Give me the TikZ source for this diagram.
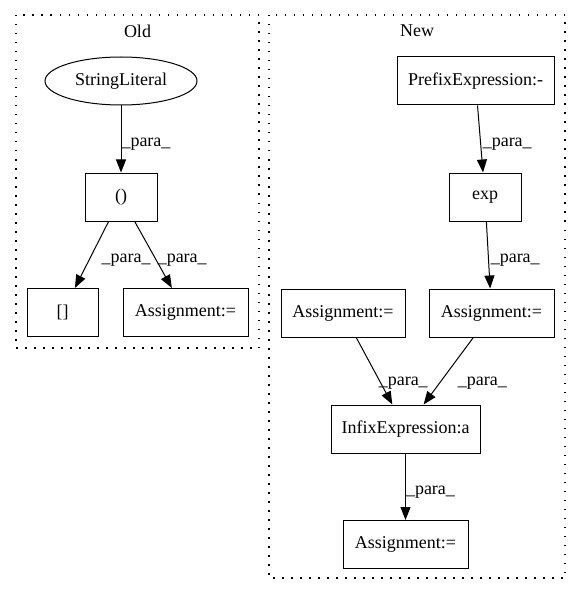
\documentclass[tikz,border=0pt]{standalone}
\usepackage{fontspec}
\setmainfont{Liberation Serif}
\usetikzlibrary{shapes.geometric, arrows.meta, positioning}

\begin{document}
\begin{tikzpicture}[
    x=1pt, y=-1pt,
    every node/.style={font=\fontsize{18}{20}\selectfont},
    box/.style={draw, rectangle, line width=1pt, minimum height=48pt, inner sep=2pt},
    lit/.style={draw, ellipse, line width=1pt, minimum width=152pt, minimum height=48pt, inner sep=0pt},
    cluster/.style={draw, dash pattern=on 1.5pt off 7.5pt, line width=1.1pt},
    arrow/.style={-{Triangle[length=13pt, width=10pt]}, line width=1pt},
    lbl/.style={anchor=west, inner sep=0pt, xshift=4pt, yshift=-5pt}
]
    \useasboundingbox (0,0) rectangle (581,596);

    % Old
    \draw[cluster] (16,15) rectangle (259,348);
    \node (oldtitle) at (137.5,31) {Old};
    \node[lit] (strlit) at (121,81) {StringLiteral};
    \node[box, minimum width=72pt] (paren) at (121,197) {()};
    \node[box, minimum width=71pt] (brackets) at (62.5,312.5) {[]};
    \node[box, minimum width=125pt] (oldassign) at (185.5,312.5) {Assignment:=};

    % New
    \draw[cluster] (269,15) rectangle (565,578);
    \node (newtitle) at (417,31) {New};
    \node[box, minimum width=157pt] (prefix) at (475.5,81) {PrefixExpression:-};
    \node[box, minimum width=72pt] (exp) at (485,197) {exp};
    \node[box, minimum width=124pt] (assignl) at (343,313) {Assignment:=};
    \node[box, minimum width=125pt] (assignr) at (491.5,313) {Assignment:=};
    \node[box, minimum width=149pt] (infix) at (405.5,429) {InfixExpression:a};
    \node[box, minimum width=125pt] (assignb) at (405.5,544.5) {Assignment:=};

    % Arrows
    \draw[arrow] (strlit) -- node[lbl, pos=0.5, xshift=-4pt] {\_para\_} (paren);
    \draw[arrow] (paren) -- node[lbl, pos=0.5, xshift=5.5pt] {\_para\_} (brackets);
    \draw[arrow] (paren) -- node[lbl, pos=0.5] {\_para\_} (oldassign);
    \draw[arrow] (prefix) -- node[lbl, pos=0.5, xshift=-2pt] {\_para\_} (exp);
    \draw[arrow] (exp) -- node[lbl, pos=0.5, xshift=-2pt] {\_para\_} (assignr);
    \draw[arrow] (assignl) -- node[lbl, pos=0.5, yshift=-7pt] {\_para\_} (infix);
    \draw[arrow] (assignr) -- node[lbl, pos=0.5, xshift=5pt, yshift=-7pt] {\_para\_} (infix);
    \draw[arrow] (infix) -- node[lbl, pos=0.5, xshift=-4pt] {\_para\_} (assignb);
\end{tikzpicture}
\end{document}
